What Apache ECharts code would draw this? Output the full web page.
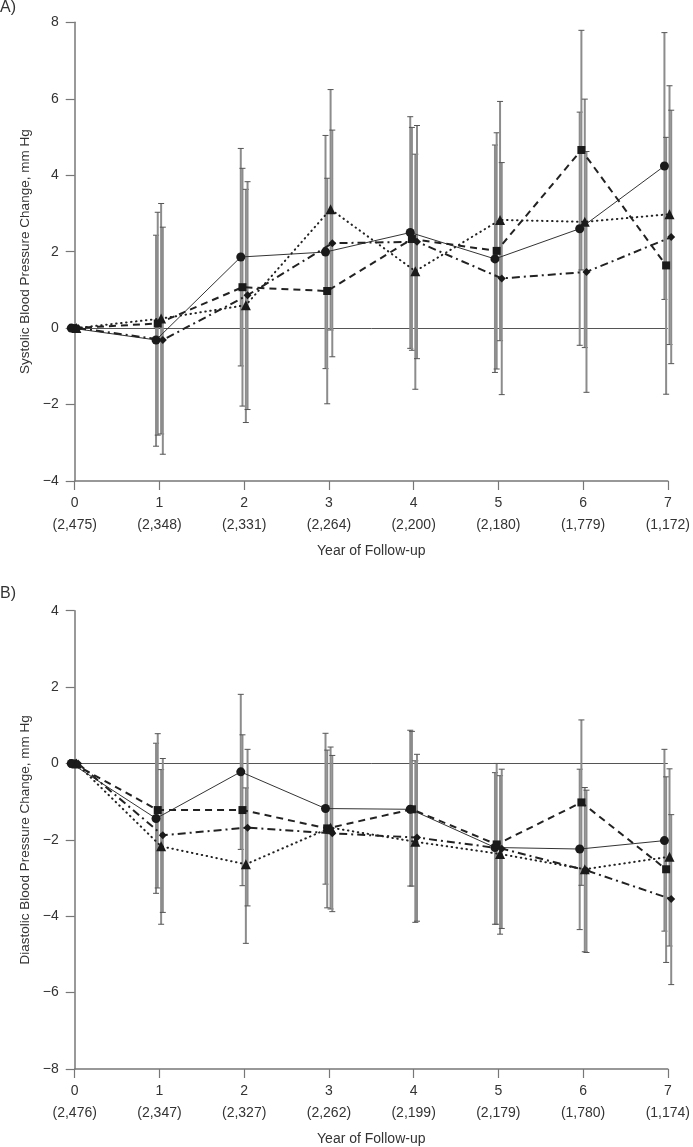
<!DOCTYPE html>
<html>
<head>
<meta charset="utf-8">
<script src="https://cdn.jsdelivr.net/npm/echarts@6/dist/echarts.min.js"></script>
<style>
html,body{margin:0;padding:0;background:#fff;}
#chart{width:693px;height:1147px;}
</style>
</head>
<body>
<div id="chart"></div>
<script>
// ---------- data ----------
const years = [0, 1, 2, 3, 4, 5, 6, 7];
const nA = ['(2,475)', '(2,348)', '(2,331)', '(2,264)', '(2,200)', '(2,180)', '(1,779)', '(1,172)'];
const nB = ['(2,476)', '(2,347)', '(2,327)', '(2,262)', '(2,199)', '(2,179)', '(1,780)', '(1,174)'];

// Panel A: systolic
const sbpCircle   = [0, -0.31, 1.86, 1.99, 2.50, 1.81, 2.60, 4.24];
const sbpCircleLo = [null, -3.09, -0.99, -1.06, -0.53, -1.16, -0.45, 0.75];
const sbpCircleHi = [null, 2.43, 4.70, 5.04, 5.53, 4.79, 5.65, 7.73];
const sbpSquare   = [0, 0.12, 1.07, 0.97, 2.33, 2.02, 4.66, 1.64];
const sbpSquareLo = [null, -2.80, -2.04, -1.98, -0.58, -1.07, 1.52, -1.73];
const sbpSquareHi = [null, 3.03, 4.18, 3.92, 5.25, 5.11, 7.79, 4.99];
const sbpTri      = [0, 0.25, 0.60, 3.11, 1.49, 2.83, 2.78, 2.98];
const sbpTriLo    = [null, -2.77, -2.47, -0.05, -1.60, -0.33, -0.51, -0.43];
const sbpTriHi    = [null, 3.26, 3.63, 6.24, 4.55, 5.93, 5.99, 6.34];
const sbpDiam     = [0, -0.31, 0.86, 2.22, 2.26, 1.30, 1.47, 2.38];
const sbpDiamLo   = [null, -3.30, -2.13, -0.75, -0.80, -1.74, -1.68, -0.93];
const sbpDiamHi   = [null, 2.64, 3.83, 5.18, 5.30, 4.33, 4.62, 5.70];

// Panel B: diastolic
const dbpCircle   = [0, -1.44, -0.22, -1.18, -1.20, -2.20, -2.24, -2.02];
const dbpCircleLo = [null, -3.40, -2.25, -3.16, -3.21, -4.21, -4.35, -4.39];
const dbpCircleHi = [null, 0.53, 1.81, 0.79, 0.87, -0.24, -0.15, 0.37];
const dbpSquare   = [0, -1.22, -1.22, -1.70, -1.20, -2.12, -1.02, -2.77];
const dbpSquareLo = [null, -3.26, -3.20, -3.78, -3.21, -4.21, -3.19, -5.21];
const dbpSquareHi = [null, 0.78, 0.75, 0.35, 0.84, 0.00, 1.14, -0.35];
const dbpTri      = [0, -2.17, -2.64, -1.68, -2.05, -2.37, -2.77, -2.44];
const dbpTriLo    = [null, -4.21, -4.71, -3.81, -4.16, -4.47, -4.93, -4.78];
const dbpTriHi    = [null, -0.16, -0.64, 0.43, 0.07, -0.32, -0.63, -0.14];
const dbpDiam     = [0, -1.88, -1.68, -1.83, -1.94, -2.23, -2.80, -3.55];
const dbpDiamLo   = [null, -3.90, -3.73, -3.88, -4.13, -4.32, -4.95, -5.79];
const dbpDiamHi   = [null, 0.13, 0.37, 0.21, 0.24, -0.15, -0.70, -1.34];

const yTicksA = [-4, -2, 0, 2, 4, 6, 8];
const yTicksB = [-8, -6, -4, -2, 0, 2, 4];

// ---------- styles ----------
const FONT = 'Liberation Sans';
const TXT = '#333';
const AX = '#777';
const MK = '#1a1a1a';
const styles = [
  {symbol: 'circle', size: 9, off: -0.04, line: {type: 'solid', width: 1, color: '#333'}},
  {symbol: 'rect', size: 8, off: -0.02, line: {type: [7, 5], width: 2, color: '#222'}},
  {symbol: 'triangle', size: 10, off: 0.02, line: {type: [0.5, 4.5], width: 2, cap: 'round', color: '#222'}},
  {symbol: 'diamond', size: 8, off: 0.04, line: {type: [8, 4, 2, 4], width: 2, color: '#222'}}
];

const panelA = [[sbpCircle, sbpCircleLo, sbpCircleHi], [sbpSquare, sbpSquareLo, sbpSquareHi],
                [sbpTri, sbpTriLo, sbpTriHi], [sbpDiam, sbpDiamLo, sbpDiamHi]];
const panelB = [[dbpCircle, dbpCircleLo, dbpCircleHi], [dbpSquare, dbpSquareLo, dbpSquareHi],
                [dbpTri, dbpTriLo, dbpTriHi], [dbpDiam, dbpDiamLo, dbpDiamHi]];

function fmtY(v) { return v < 0 ? '\u2212' + Math.abs(v) : String(v); }

function errRender(params, api) {
  const x = api.value(0), lo = api.value(1), hi = api.value(2);
  const a = api.coord([x, lo]), b = api.coord([x, hi]);
  const cap = 3;
  return {
    type: 'group',
    children: [
      {type: 'line', shape: {x1: a[0], y1: a[1], x2: b[0], y2: b[1]}, style: {stroke: '#8c8c8c', lineWidth: 2}},
      {type: 'line', shape: {x1: a[0] - cap, y1: a[1], x2: a[0] + cap, y2: a[1]}, style: {stroke: '#555', lineWidth: 1}},
      {type: 'line', shape: {x1: b[0] - cap, y1: b[1], x2: b[0] + cap, y2: b[1]}, style: {stroke: '#555', lineWidth: 1}}
    ]
  };
}

function xAxisFor(gi, labels) {
  return {
    type: 'value', gridIndex: gi, min: 0, max: 7, interval: 1,
    axisLine: {show: true, onZero: false, lineStyle: {color: AX, width: 1.5}},
    axisTick: {show: true, length: 9, lineStyle: {color: AX, width: 1.2}},
    splitLine: {show: false},
    axisLabel: {
      margin: 11,
      formatter: function (v) { return '{a|' + v + '}\n{b|' + labels[Math.round(v)] + '}'; },
      rich: {
        a: {fontFamily: FONT, fontSize: 14, color: TXT, lineHeight: 22},
        b: {fontFamily: FONT, fontSize: 14, color: TXT, lineHeight: 22}
      }
    },
    name: 'Year of Follow-up', nameLocation: 'middle', nameGap: 63,
    nameTextStyle: {fontFamily: FONT, fontSize: 14, color: TXT}
  };
}

function yAxisFor(gi, ticks, name) {
  return {
    type: 'value', gridIndex: gi, min: ticks[0], max: ticks[ticks.length - 1], interval: 2,
    axisLine: {show: true, lineStyle: {color: AX, width: 1.5}},
    axisTick: {show: true, length: 9, lineStyle: {color: AX, width: 1.2}},
    splitLine: {show: false},
    axisLabel: {margin: 16, formatter: fmtY, fontFamily: FONT, fontSize: 14, color: TXT},
    name: name, nameLocation: 'middle', nameGap: 42,
    nameTextStyle: {fontFamily: FONT, fontSize: 13.5, color: TXT}
  };
}

const series = [];
[panelA, panelB].forEach(function (panel, gi) {
  panel.forEach(function (trip, si) {
    const st = styles[si];
    const lo = trip[1], hi = trip[2];
    const err = [];
    years.forEach(function (yr, i) {
      if (lo[i] !== null) err.push([yr + st.off, lo[i], hi[i]]);
    });
    series.push({
      type: 'custom', xAxisIndex: gi, yAxisIndex: gi, renderItem: errRender,
      data: err, encode: {x: 0, y: [1, 2]}, clip: false, z: 1, silent: true
    });
  });
  panel.forEach(function (trip, si) {
    const st = styles[si];
    const s = {
      type: 'line', xAxisIndex: gi, yAxisIndex: gi,
      data: years.map(function (yr, i) { return [yr + st.off, trip[0][i]]; }),
      symbol: st.symbol, symbolSize: st.size, showSymbol: true,
      itemStyle: {color: MK, borderWidth: 0},
      lineStyle: st.line, clip: false, z: 3, silent: true, animation: false
    };
    if (si === 0) {
      s.markLine = {
        silent: true, symbol: ['none', 'none'], label: {show: false},
        lineStyle: {type: 'solid', color: '#555', width: 1}, z: 0,
        data: [{yAxis: 0}]
      };
    }
    series.push(s);
  });
});

const chart = echarts.init(document.getElementById('chart'), null, {renderer: 'canvas'});
chart.setOption({
  animation: false,
  backgroundColor: '#fff',
  grid: [
    {left: 74.7, top: 22.3, width: 596, height: 458.7},
    {left: 74.7, top: 610.7, width: 596, height: 458.6}
  ],
  xAxis: [xAxisFor(0, nA), xAxisFor(1, nB)],
  yAxis: [yAxisFor(0, yTicksA, 'Systolic Blood Pressure Change, mm Hg'),
          yAxisFor(1, yTicksB, 'Diastolic Blood Pressure Change, mm Hg')],
  graphic: [
    {type: 'text', left: 0, top: 0, style: {text: 'A)', font: '16px "Liberation Sans"', fill: TXT}},
    {type: 'text', left: 0, top: 586, style: {text: 'B)', font: '16px "Liberation Sans"', fill: TXT}}
  ],
  series: series
});
</script>
</body>
</html>
